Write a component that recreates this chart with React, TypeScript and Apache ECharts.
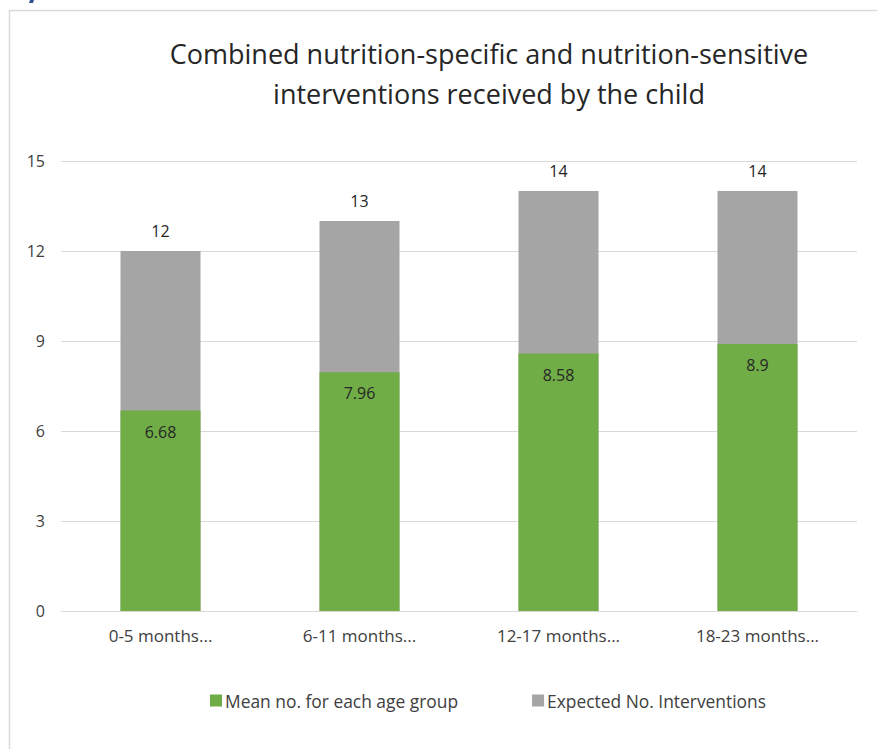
import React, { useEffect, useRef } from "react";
import * as echarts from "echarts";

const categories = ["0-5 months...", "6-11 months...", "12-17 months...", "18-23 months..."];
const meanValues = [6.68, 7.96, 8.58, 8.9];
const expectedValues = [12, 13, 14, 14];
const titleLines = ["Combined nutrition-specific and nutrition-sensitive", "interventions received by the child"];

export default function App() {
  const ref = useRef<HTMLDivElement>(null);
  useEffect(() => {
    if (!ref.current) return;
    const chart = echarts.init(ref.current, null, { renderer: "svg" });
    chart.setOption({
      animation: false,
      backgroundColor: "#ffffff",
      title: {
        text: titleLines.join("\n"),
        left: 484,
        textAlign: "center",
        top: 28,
        textStyle: {
          fontFamily: "Open Sans",
          fontSize: 27,
          fontWeight: "normal",
          color: "#262626",
          lineHeight: 40,
        },
      },
      graphic: [
        {
          type: "rect",
          shape: { x: 9.5, y: 10.5, width: 900, height: 800 },
          style: { fill: "none", stroke: "#d9d9d9", lineWidth: 1.5 },
          silent: true,
        },
        {
          type: "polygon",
          shape: { points: [[30, 0], [34, 0], [33, 3], [29, 3]] },
          style: { fill: "#2f5597" },
          silent: true,
        },
      ],
      legend: {
        bottom: 35,
        left: 205,
        itemWidth: 12,
        itemHeight: 12,
        itemGap: 74,
        icon: "rect",
        textStyle: { fontFamily: "Open Sans", fontSize: 17.4, color: "#404040", padding: [0, 0, 0, -2] },
        data: ["Mean no. for each age group", "Expected No. Interventions"],
      },
      grid: { left: 61, right: 20, top: 161, bottom: 138 },
      xAxis: {
        type: "category",
        data: categories,
        axisTick: { show: false },
        axisLine: { lineStyle: { color: "#d9d9d9", width: 1 } },
        axisLabel: { fontFamily: "Open Sans", fontSize: 17, color: "#404040", margin: 16 },
      },
      yAxis: {
        type: "value",
        min: 0,
        max: 15,
        interval: 3,
        axisLabel: { fontFamily: "Open Sans", fontSize: 16, color: "#404040", margin: 16 },
        splitLine: { lineStyle: { color: "#d9d9d9", width: 1 } },
      },
      series: [
        {
          name: "Expected No. Interventions",
          type: "bar",
          data: expectedValues,
          barWidth: 80,
          barGap: "-100%",
          itemStyle: { color: "#a5a5a5" },
          label: {
            show: true,
            position: "top",
            distance: 12,
            fontFamily: "Open Sans",
            fontSize: 16,
            color: "#262626",
          },
          z: 1,
        },
        {
          name: "Mean no. for each age group",
          type: "bar",
          data: meanValues,
          barWidth: 80,
          itemStyle: { color: "#70ad47" },
          label: {
            show: true,
            position: "insideTop",
            distance: 13,
            fontFamily: "Open Sans",
            fontSize: 16,
            color: "#262626",
          },
          z: 2,
        },
      ],
    });
    return () => chart.dispose();
  }, []);
  return (
    <div
      ref={ref}
      style={{ position: "absolute", left: 0, top: 0, width: 877, height: 749 }}
    />
  );
}
